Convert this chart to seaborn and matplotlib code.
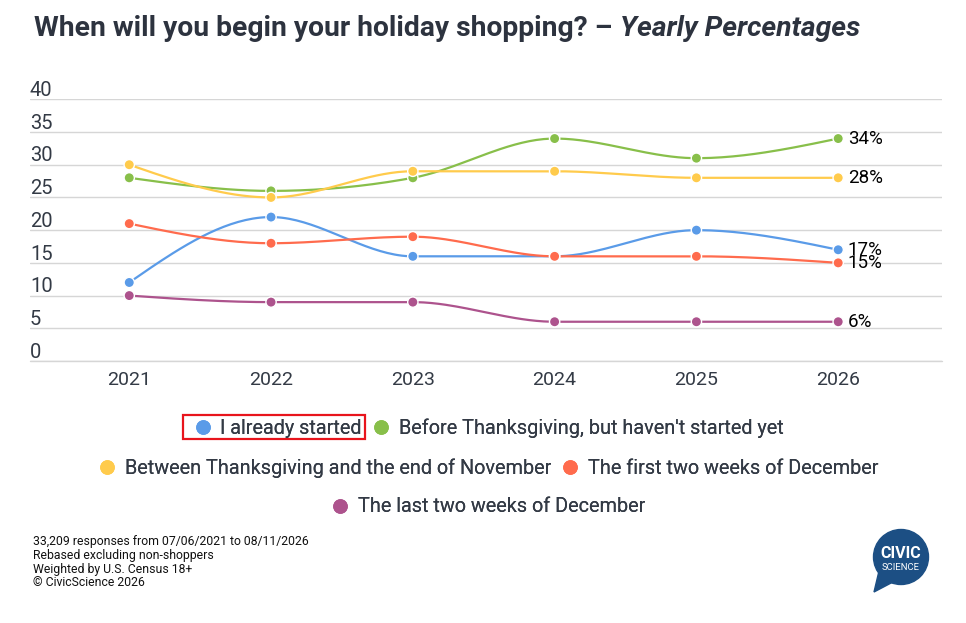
import numpy as np
import pandas as pd
import seaborn as sns
import matplotlib.pyplot as plt
from matplotlib import transforms
from matplotlib.lines import Line2D
from matplotlib.patches import Circle, Polygon, Rectangle

# data
years = [2021, 2022, 2023, 2024, 2025, 2026]
already_started = [12, 22, 16, 16, 20, 17]
before_thanksgiving = [28, 26, 28, 34, 31, 34]
thanksgiving_to_nov = [30, 25, 29, 29, 28, 28]
first_two_dec = [21, 18, 19, 16, 16, 15]
last_two_dec = [10, 9, 9, 6, 6, 6]

series_names = ["I already started",
                "Before Thanksgiving, but haven't started yet",
                "Between Thanksgiving and the end of November",
                "The first two weeks of December",
                "The last two weeks of December"]
series_values = [already_started, before_thanksgiving, thanksgiving_to_nov,
                 first_two_dec, last_two_dec]
colors = ["#5a9be8", "#88bf4a", "#ffcb4c", "#ff6b4d", "#ad538d"]

sns.set_theme(style="white")
plt.rcParams['font.family'] = ['Roboto', 'DejaVu Sans']


def monotone_x(x, y, n=40):
    # d3 curveMonotoneX style interpolation
    x = np.asarray(x, float)
    y = np.asarray(y, float)
    h = np.diff(x)
    s = np.diff(y) / h
    t = np.zeros_like(y)
    for i in range(1, len(x) - 1):
        p = (s[i - 1] * h[i] + s[i] * h[i - 1]) / (h[i - 1] + h[i])
        t[i] = (np.sign(s[i - 1]) + np.sign(s[i])) * min(abs(s[i - 1]), abs(s[i]), 0.5 * abs(p))
    t[0] = (3 * s[0] - t[1]) / 2
    t[-1] = (3 * s[-1] - t[-2]) / 2
    xs, ys = [], []
    for i in range(len(x) - 1):
        u = np.linspace(0, 1, n)
        h00 = 2 * u**3 - 3 * u**2 + 1
        h10 = u**3 - 2 * u**2 + u
        h01 = -2 * u**3 + 3 * u**2
        h11 = u**3 - u**2
        xs.append(x[i] + u * h[i])
        ys.append(h00 * y[i] + h10 * h[i] * t[i] + h01 * y[i + 1] + h11 * h[i] * t[i + 1])
    return np.concatenate(xs), np.concatenate(ys)


points = pd.DataFrame({"year": np.tile(years, len(series_names)),
                       "value": np.concatenate(series_values),
                       "series": np.repeat(series_names, len(years))})
curves = []
for name, vals in zip(series_names, series_values):
    cx, cy = monotone_x(years, vals)
    curves.append(pd.DataFrame({"year": cx, "value": cy, "series": name}))
curves = pd.concat(curves)

fig = plt.figure(figsize=(9.66, 6.23), dpi=100)
ax = fig.add_axes([30 / 966, 1 - 361 / 623, 911.7 / 966, 261.7 / 623])
palette = dict(zip(series_names, colors))

sns.lineplot(data=curves, x="year", y="value", hue="series", palette=palette,
             linewidth=1.6, legend=False, sort=False, estimator=None, ax=ax, zorder=3)
sns.scatterplot(data=points, x="year", y="value", hue="series", palette=palette,
                s=55, edgecolor="white", linewidth=1, legend=False, ax=ax, zorder=4)

ax.set_xlim(2020.3, 2026.73)
ax.set_ylim(0, 40)
ax.set_xlabel("")
ax.set_ylabel("")
for sp in ax.spines.values():
    sp.set_visible(False)
ax.set_yticks(range(0, 41, 5))
ax.yaxis.grid(True, color="#d6d6d6", linewidth=1)
ax.axhline(0, color="#d6d6d6", linewidth=1, clip_on=False, zorder=1)
ax.set_yticklabels([])
ax.tick_params(axis="y", length=0)
ax.set_xticks(years)
ax.set_xticklabels([str(y) for y in years], fontsize=14, color="#333a45")
ax.tick_params(axis="x", length=0, pad=7)

# y labels sit on top of the gridlines
ylab_tr = transforms.offset_copy(ax.get_yaxis_transform(), fig=fig, x=0, y=-0.5, units="points")
for v in range(0, 41, 5):
    ax.text(0, v, str(v), transform=ylab_tr, ha="left", va="bottom",
            fontsize=14.5, color="#333a45")

# end labels
lab_tr = transforms.offset_copy(ax.transData, fig=fig, x=7, y=0, units="points")
for vals in series_values:
    ax.text(years[-1], vals[-1], f"{vals[-1]}%", transform=lab_tr, ha="left",
            va="center", fontsize=13.5, color="black")

# title
fig.text(34 / 966, 1 - 28 / 623, "When will you begin your holiday shopping? \u2013 ",
         fontsize=20.3, fontweight="bold", color="#2d333f", va="center", ha="left")
t1 = fig.texts[-1]
fig.canvas.draw()
bb = t1.get_window_extent()
fig.text(bb.x1 / 966, 1 - 28 / 623, "Yearly Percentages", fontsize=20.3,
         fontweight="bold", fontstyle="italic", color="#2d333f", va="center", ha="left")

# legend, three centred rows
rows = [[0, 1], [2, 3], [4]]
row_y = [428, 468, 507]
for idx, yy in zip(rows, row_y):
    handles = [Line2D([], [], marker="o", linestyle="", markersize=9.5,
                      markerfacecolor=colors[i], markeredgecolor=colors[i]) for i in idx]
    leg = fig.legend(handles, [series_names[i] for i in idx], ncol=len(idx),
                     loc="center", bbox_to_anchor=(488 / 966, 1 - yy / 623),
                     frameon=False, fontsize=14.3, handletextpad=0.4, columnspacing=0.45,
                     handlelength=1.0, labelcolor="#333a45")
    fig.add_artist(leg)

fig.add_artist(Rectangle((183 / 966, 1 - 439 / 623), 182 / 966, 24 / 623,
                         transform=fig.transFigure, fill=False, edgecolor="#e8141c",
                         linewidth=1.6))

# footer notes
notes = ["33,209 responses from 07/06/2021 to 08/11/2026",
         "Rebased excluding non-shoppers",
         "Weighted by U.S. Census 18+",
         "\u00a9 CivicScience 2026"]
for i, line in enumerate(notes):
    fig.text(33 / 966, 1 - (541 + 14 * i) / 623, line, fontsize=8.8,
             color="#111111", va="center", ha="left")

# logo
lax = fig.add_axes([865 / 966, 1 - 597 / 623, 72 / 966, 72 / 623])
lax.set_xlim(0, 72)
lax.set_ylim(0, 72)
lax.axis("off")
logo_c = "#1c4f84"
lax.add_patch(Circle((36, 40), 27.5, color=logo_c))
lax.add_patch(Polygon([[14, 26], [9, 5], [28, 15]], closed=True, color=logo_c))
lax.text(36, 44, "CIVIC", color="white", fontsize=11.5, fontweight="bold",
         ha="center", va="center")
lax.text(36, 29, "SCIENCE", color="white", fontsize=6.8, ha="center", va="center")

fig.savefig("out.png", dpi=100)
